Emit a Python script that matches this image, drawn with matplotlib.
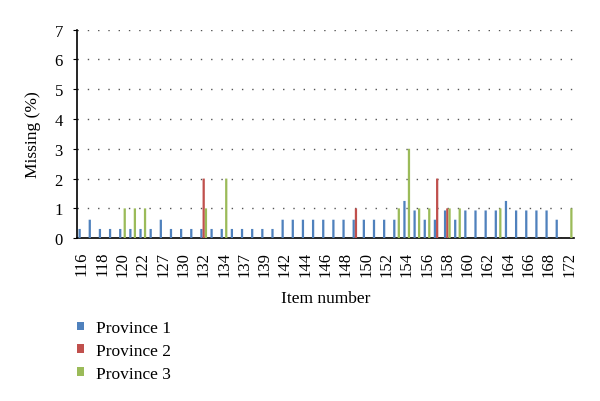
import numpy as np
import matplotlib
matplotlib.use("Agg")
import matplotlib.pyplot as plt

plt.rcParams['font.family'] = ['Liberation Serif', 'DejaVu Serif']

# item numbers on the x axis (every second one is labelled)
items = [116, 117, 118, 119, 120, 121, 122, 123, 127, 128, 130, 131, 132, 133, 134,
         135, 137, 138, 139, 140] + list(range(142, 169)) + [170, 172]

# missing percentages per province
province1 = [0.31, 0.62, 0.31, 0.31, 0.31, 0.31, 0.31, 0.31, 0.62, 0.31, 0.31, 0.31, 0.31, 0.31, 0.31,
             0.31, 0.31, 0.31, 0.31, 0.31,
             0.62, 0.62, 0.62, 0.62, 0.62, 0.62, 0.62, 0.62, 0.62, 0.62, 0.62, 0.62,
             1.25, 0.93, 0.62, 0.62, 0.93, 0.62, 0.93, 0.93, 0.93, 0.93, 1.25, 0.93, 0.93, 0.93, 0.93,
             0.62, 0]
province2 = {132: 2, 149: 1, 157: 2, 158: 1}
province3 = {120: 1, 121: 1, 122: 1, 132: 1, 134: 2, 153: 1, 154: 3, 155: 1, 156: 1,
             158: 1, 159: 1, 163: 1, 172: 1}

p2 = [province2.get(i, 0) for i in items]
p3 = [province3.get(i, 0) for i in items]

colors = ['#4F81BD', '#C0504D', '#9BBB59']
names = ['Province 1', 'Province 2', 'Province 3']

fig = plt.figure(figsize=(6, 4.02), dpi=100)
ax = fig.add_axes([0.128, 0.405, 0.829, 0.519])

x = np.arange(len(items))
w = 1 / 4.5
for k, (vals, c, n) in enumerate(zip([province1, p2, p3], colors, names)):
    bars = ax.bar(x + (k - 1) * w, vals, width=w, color=c, label=n, linewidth=0, zorder=3)
    for b in bars:
        b.set_snap(False)

ax.set_xlim(-0.5, len(items) - 0.5)
ax.set_ylim(0, 7)
ax.set_yticks(range(0, 8))
ax.set_xticks(x[::2])
ax.set_xticklabels([str(i) for i in items[::2]], rotation=90)
ax.tick_params(axis='x', length=0, pad=9, labelsize=12)
ax.tick_params(axis='y', length=3, direction='out', pad=7, labelsize=12)

ax.yaxis.grid(True, color='#555555', linewidth=1, dashes=(1, 6.4))
ax.set_axisbelow(True)
for s in ['top', 'right']:
    ax.spines[s].set_visible(False)
ax.spines['left'].set_linewidth(1.2)
ax.spines['bottom'].set_linewidth(1.2)

ax.set_ylabel('Missing (%)', fontsize=12.5, labelpad=10)
ax.set_xlabel('Item number', fontsize=12.5, labelpad=10)

leg = fig.legend(loc='upper left', bbox_to_anchor=(0.102, 0.24), frameon=False,
                 fontsize=12.5, handlelength=0.4, handleheight=0.4,
                 handletextpad=0.7, labelspacing=0.4)

fig.savefig('out.png', dpi=100)
